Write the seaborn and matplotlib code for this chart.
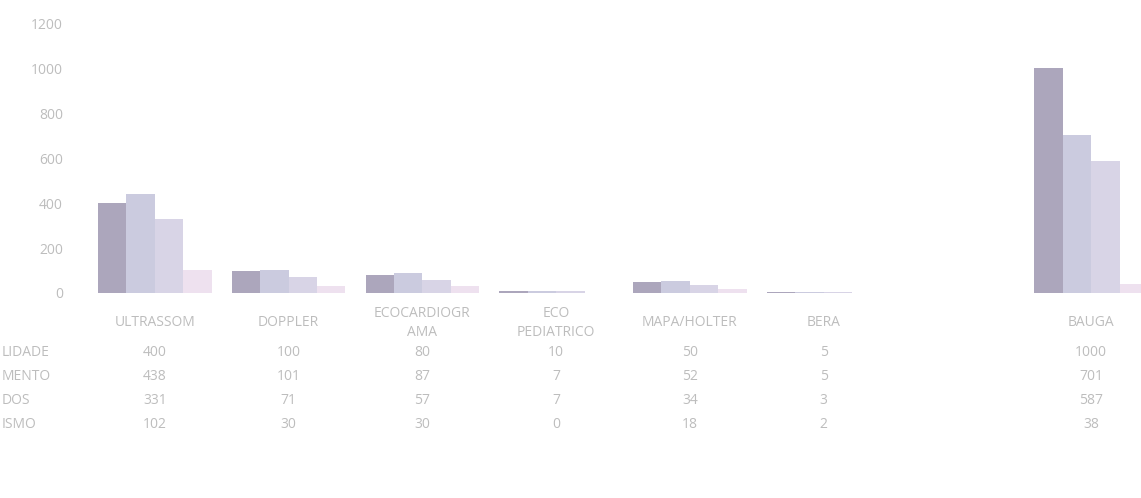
import matplotlib
matplotlib.use("Agg")
import matplotlib.pyplot as plt
import matplotlib.transforms as mtransforms
import seaborn as sns
import pandas as pd

categories = ["ULTRASSOM", "DOPPLER", "ECOCARDIOGR\nAMA", "ECO\nPEDIATRICO", "MAPA/HOLTER", "BERA", "BAUGA"]
row_labels = ["LIDADE", "MENTO", "DOS", "ISMO"]
series_names = ["DISPONIBILIDADE", "AGENDAMENTO", "REALIZADOS", "ABSENTEISMO"]
disponibilidade = [400, 100, 80, 10, 50, 5, 1000]
agendamento = [438, 101, 87, 7, 52, 5, 701]
realizados = [331, 71, 57, 7, 34, 3, 587]
absenteismo = [102, 30, 30, 0, 18, 2, 38]
yticks = [0, 200, 400, 600, 800, 1000, 1200]
ytick_labels = ["0", "200", "400", "600", "800", "1000", "1200"]

series_values = [disponibilidade, agendamento, realizados, absenteismo]
colors = ["#aca6bc", "#cbcbdf", "#d8d4e6", "#eee1ef"]
text_color = "#bdbdbd"

rows = []
for name, vals in zip(series_names, series_values):
    for c, v in zip(categories, vals):
        rows.append({"cat": c, "serie": name, "val": v})
df = pd.DataFrame(rows)

# order with a blank slot between BERA and the last category (as in the scan)
order = categories[:6] + [" "] + categories[6:]

sns.set_theme(style="white")
plt.rcParams["font.family"] = ["Open Sans", "DejaVu Sans"]

fig = plt.figure(figsize=(11.41, 4.98), dpi=100)
ax = fig.add_axes([88 / 1141, (498 - 293) / 498, 1070 / 1141, 270 / 498])

sns.barplot(data=df, x="cat", y="val", hue="serie", order=order,
            hue_order=series_names, palette=colors, width=0.85,
            saturation=1, linewidth=0, ax=ax, legend=False)

ax.set_ylim(0, 1200)
ax.set_xlim(-0.5, len(order) - 0.5)
ax.set_yticks(yticks)
ax.set_yticklabels(ytick_labels, fontsize=10, color=text_color)
ax.set_xlabel("")
ax.set_ylabel("")
ax.tick_params(axis="x", length=0, pad=21.6, labelsize=10, labelcolor=text_color)
ax.tick_params(axis="y", length=0, pad=18)
for lab in ax.get_xticklabels():
    lab.set_verticalalignment("center")
    lab.set_linespacing(1.45)
for s in ax.spines.values():
    s.set_visible(False)
ax.grid(False)

# data table below the chart
trans = mtransforms.blended_transform_factory(ax.transData, fig.transFigure)
row_y = [352, 376, 400, 424]
positions = [order.index(c) for c in categories]
for ry, lab, vals in zip(row_y, row_labels, series_values):
    fy = 1 - ry / 498
    fig.text(0.001, fy, lab, ha="left", va="center", fontsize=10, color=text_color)
    for p, v in zip(positions, vals):
        ax.text(p, fy, str(v), transform=trans, ha="center", va="center",
                fontsize=10, color=text_color, clip_on=False)

fig.savefig("out.png", dpi=100)
